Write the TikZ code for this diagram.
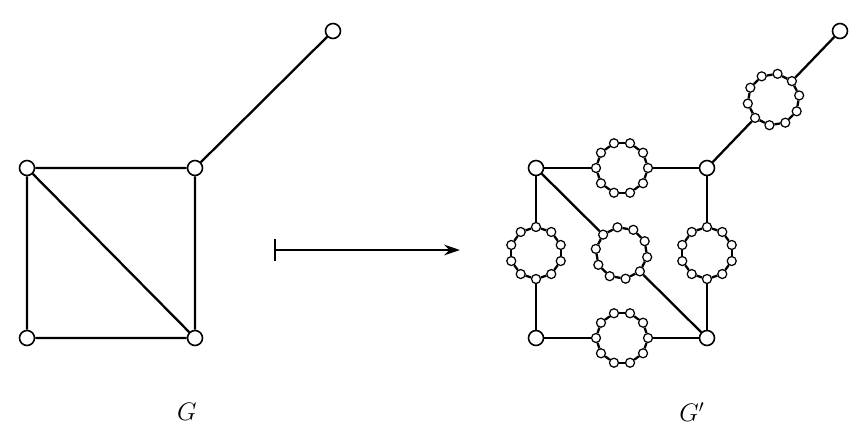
\documentclass[tikz,border=0pt]{standalone}
\usetikzlibrary{calc,arrows.meta}
\begin{document}
\begin{tikzpicture}[x=0.02cm, y=0.02cm, line width=1.3pt,
        vertex/.style={circle, draw, fill=white, inner sep=0pt, minimum size=0.3cm, line width=0.9pt},
        small/.style={circle, draw, fill=white, inner sep=0pt, minimum size=0.18cm, line width=0.7pt}]
    \useasboundingbox (0,0) rectangle (860,441);
    % left graph G
    \node[vertex] (u1) at (27, 273) {};
    \node[vertex] (u2) at (195, 273) {};
    \node[vertex] (u3) at (27, 103) {};
    \node[vertex] (u4) at (195, 103) {};
    \node[vertex] (u5) at (333, 410) {};
    \draw (u1) -- (u2) -- (u4) -- (u3) -- (u1) -- (u4);
    \draw (u2) -- (u5);
    \node[font=\Large] (g1) at (187, 29) {$G$};
    % the map
    \coordinate (s) at (274, 191);
    \coordinate (t) at (460, 191);
    \draw[{Bar[width=12pt]}-{Stealth[length=9pt, width=6pt]}] (s) -- (t);
    % right graph G'
    \node[vertex] (v1) at (536, 273) {};
    \node[vertex] (v2) at (707, 273) {};
    \node[vertex] (v3) at (536, 103) {};
    \node[vertex] (v4) at (707, 103) {};
    \node[vertex] (v5) at (840, 410) {};
    \node[font=\Large] (g2) at (692, 29) {$G'$};
    % one cycle on every edge
    \foreach \c/\x/\y/\a/\p/\q in {ct/622/273/180/v1/v2, cb/622/103/180/v3/v4,
            cl/536/188/90/v1/v3, cr/707/188/90/v2/v4,
            cm/621.5/188/135/v1/v4, ce/773.5/341.5/225/v2/v5} {
        \foreach \i in {0,...,9}
            \node[small] (\c\i) at ($(\x,\y)+(\a+36*\i:26)$) {};
        \foreach \i [evaluate=\i as \j using {int(mod(\i+1,10))}] in {0,...,9}
            \draw (\c\i) -- (\c\j);
        \draw (\p) -- (\c0);
        \draw (\c5) -- (\q);
    }
\end{tikzpicture}
\end{document}
